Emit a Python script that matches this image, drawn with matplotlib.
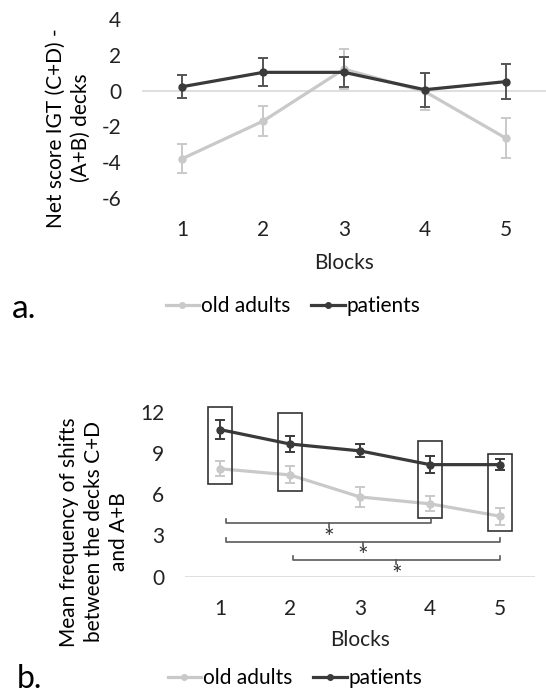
"""Two-panel line chart: IGT net score and deck shifts, old adults vs patients."""
import matplotlib
matplotlib.use("Agg")
import matplotlib.pyplot as plt
from matplotlib.lines import Line2D
from matplotlib.patches import Rectangle

plt.rcParams["font.family"] = ["Lato", "DejaVu Sans"]

blocks = [1, 2, 3, 4, 5]

# panel a: net score
net_old = [-3.8, -1.7, 1.2, -0.05, -2.65]
net_old_err = [0.8, 0.85, 1.1, 1.05, 1.1]
net_pat = [0.22, 1.02, 1.02, 0.05, 0.5]
net_pat_err = [0.65, 0.78, 0.83, 0.95, 0.97]

# panel b: mean frequency of shifts
shift_old = [7.85, 7.4, 5.8, 5.3, 4.4]
shift_old_err = [0.53, 0.62, 0.7, 0.55, 0.63]
shift_pat = [10.7, 9.65, 9.15, 8.15, 8.15]
shift_pat_err = [0.67, 0.6, 0.48, 0.63, 0.4]

# highlighted blocks (boxes) in panel b
box_blocks = [1, 2, 4, 5]
box_low = [6.75, 6.25, 4.3, 3.35]
box_high = [12.35, 11.9, 9.9, 8.95]

# significance brackets in panel b
br_start = [1.08, 1.08, 2.04]
br_end = [4.02, 5.0, 5.0]
br_level = [3.88, 2.55, 1.21]

LIGHT = "#c9c9c9"
DARK = "#3a3a3a"
FS = 15

W, H = 546, 695
fig = plt.figure(figsize=(W / 100, H / 100), dpi=100)


def px_axes(left, top, right, bottom):
    return fig.add_axes([left / W, 1 - bottom / H, (right - left) / W, (bottom - top) / H])


def style(ax, ylim, yticks):
    ax.set_xlim(0.5, 5.5)
    ax.set_ylim(*ylim)
    ax.set_yticks(yticks)
    ax.set_xticks(blocks)
    ax.axhline(0, color="#d9d9d9", lw=1.2, zorder=0)
    for s in ax.spines.values():
        s.set_visible(False)
    ax.tick_params(axis="y", length=0, pad=15, labelsize=FS, labelcolor="#222222")
    ax.tick_params(axis="x", length=0, pad=16, labelsize=FS, labelcolor="#222222")
    ax.patch.set_alpha(0)


def series(ax, y, err, color, ecolor, z):
    ax.errorbar(blocks, y, yerr=err, color=color, lw=2.3, marker="o", ms=5,
                ecolor=ecolor, elinewidth=1.4, capsize=3.5, capthick=1.4, zorder=z)


def legend(x, y):
    handles = [Line2D([], [], color=LIGHT, lw=2.3, marker="o", ms=4),
               Line2D([], [], color=DARK, lw=2.3, marker="o", ms=4)]
    fig.legend(handles, ["old adults", "patients"], loc="center",
               bbox_to_anchor=(x / W, 1 - y / H), ncol=2, frameon=False, fontsize=FS,
               handlelength=1.6, handletextpad=0.1, columnspacing=1.0)


# ---- panel a ----
ax1 = px_axes(142, 19, 546, 198)
style(ax1, (-6, 4), [-6, -4, -2, 0, 2, 4])
ax1.set_yticklabels(["-6", "-4", "-2", "0", "2", "4"])
series(ax1, net_old, net_old_err, LIGHT, LIGHT, 2)
series(ax1, net_pat, net_pat_err, DARK, "#555555", 3)
ax1.set_xlabel("Blocks", fontsize=FS, color="#222222")
ax1.xaxis.label.set_va("center")
ax1.xaxis.set_label_coords(0.5, -0.365)
fig.text(68 / W, 1 - 128 / H, "Net score IGT (C+D) -\n(A+B) decks", rotation=90,
         ha="center", va="center", ma="center", fontsize=FS, linespacing=1.3)
legend(293, 306)
fig.text(12 / W, 1 - 318 / H, "a.", fontsize=24, va="baseline", ha="left")

# ---- panel b ----
ax2 = px_axes(185, 411.7, 535, 576.7)
style(ax2, (0, 12), [0, 3, 6, 9, 12])
series(ax2, shift_old, shift_old_err, LIGHT, LIGHT, 2)
series(ax2, shift_pat, shift_pat_err, DARK, DARK, 3)
for b, lo, hi in zip(box_blocks, box_low, box_high):
    ax2.add_patch(Rectangle((b - 0.175, lo), 0.35, hi - lo, fill=False, ec="#333333",
                            lw=1.2, clip_on=False, zorder=4))
for x0, x1, lvl in zip(br_start, br_end, br_level):
    mid = (x0 + x1) / 2
    ax2.plot([x0, x0, x1, x1], [lvl + 0.3, lvl, lvl, lvl + 0.3], color="#5a5a5a", lw=1.2,
             clip_on=False, zorder=4)
    ax2.plot([mid, mid], [lvl, lvl - 0.3], color="#5a5a5a", lw=1.2, clip_on=False, zorder=4)
    # asterisk glyph sits high in the em box, so anchor on the baseline and shift down
    ax2.annotate("*", (mid, lvl - 0.65), xytext=(0, -10), textcoords="offset points",
                 ha="center", va="baseline", fontsize=18, color="#333333",
                 annotation_clip=False)
ax2.set_xlabel("Blocks", fontsize=FS, color="#222222")
ax2.xaxis.label.set_va("center")
ax2.xaxis.set_label_coords(0.5, -0.384)
fig.text(94 / W, 1 - 532 / H, "Mean frequency of shifts\nbetween the decks C+D\nand A+B",
         rotation=90, ha="center", va="center", ma="center", fontsize=FS, linespacing=1.3)
legend(295, 678)
fig.text(17 / W, 1 - 694 / H, "b.", fontsize=23, va="bottom", ha="left")

fig.savefig("out.png", dpi=100)
